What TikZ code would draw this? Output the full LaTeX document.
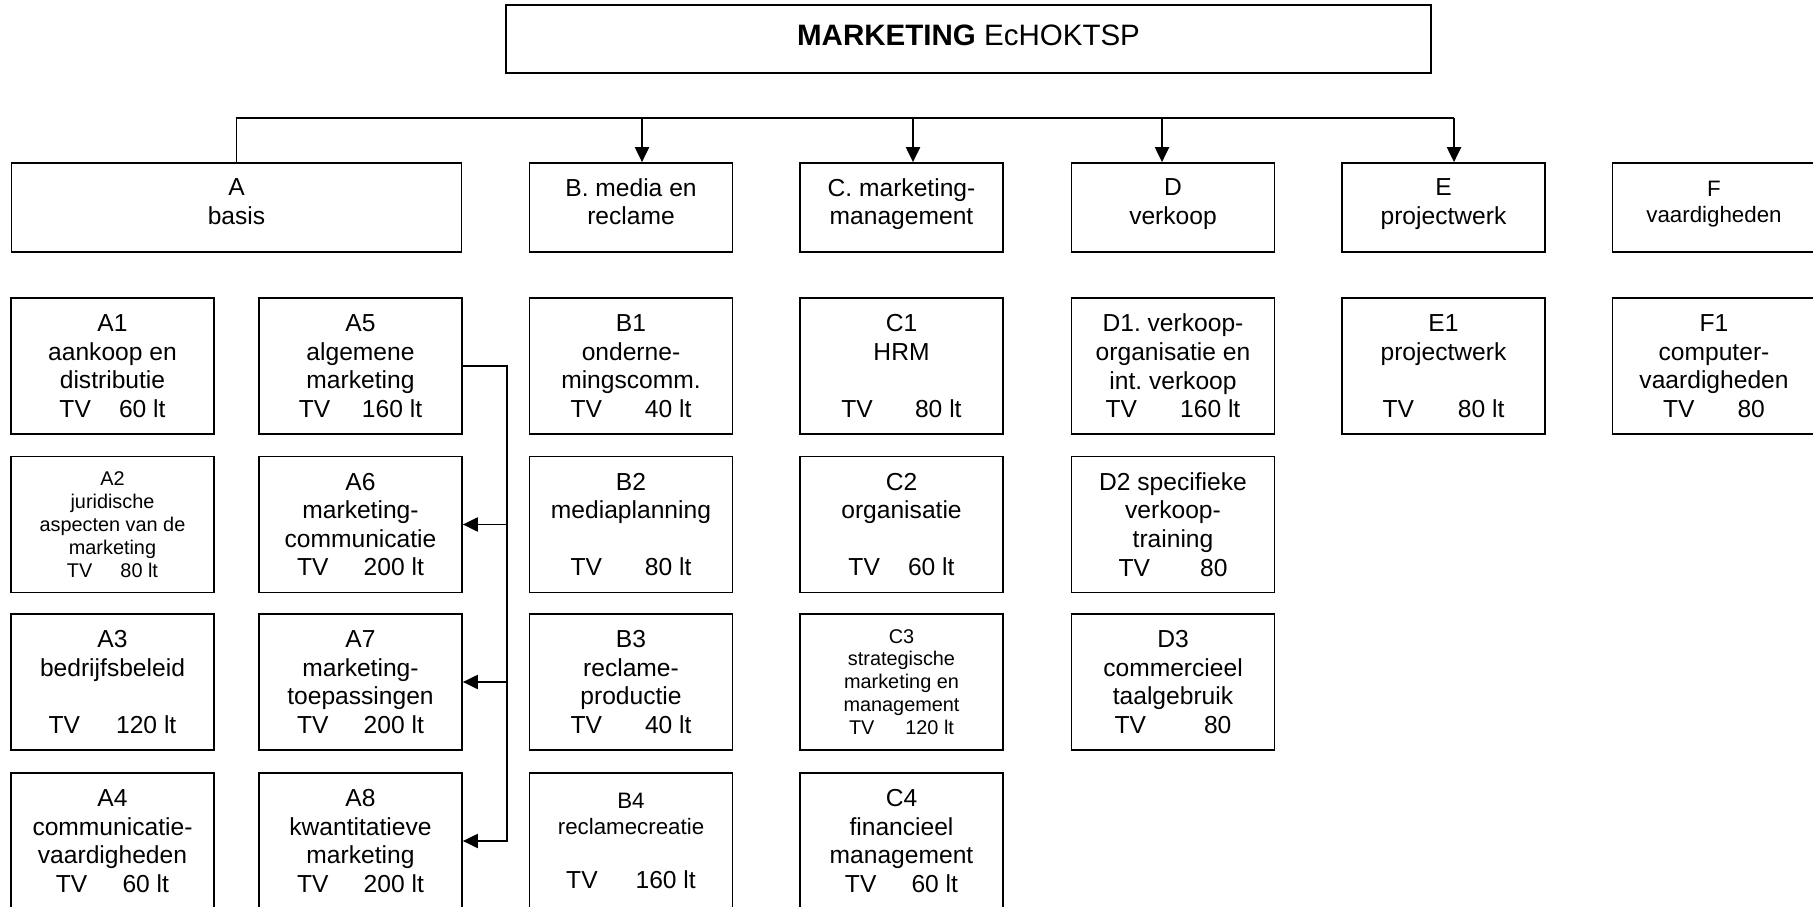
\documentclass[tikz,border=0pt]{standalone}
\usepackage{fontspec}
\setmainfont{Liberation Sans}
\usetikzlibrary{arrows.meta}
\newcommand{\klein}{\fontsize{11.3}{13}\selectfont}
\newcommand{\middel}{\fontsize{12.7}{14.6}\selectfont}
\frenchspacing
\begin{document}
\begin{tikzpicture}[>={Triangle[length=8.5pt,width=8pt]},line width=1pt,
  kop/.style={draw,minimum width=4.06cm,minimum height=1.78cm,align=center,
    inner sep=0pt,text depth=6.6pt,font=\fontsize{14}{16.3}\selectfont},
  vak/.style={draw,minimum width=4.06cm,minimum height=2.72cm,align=center,
    inner sep=0pt,font=\fontsize{14}{16.3}\selectfont}]
\useasboundingbox (0,0) rectangle (36.26,-18.14);
\node[draw,minimum width=18.5cm,minimum height=1.36cm,text depth=4.2pt,
  font=\fontsize{16.8}{19}\selectfont] (titel) at (19.37,-0.78)
  {\textbf{MARKETING} EcHOKTSP};
% hoofdgroepen
\node[kop,minimum width=9cm] (A) at (4.73,-4.15) {A\\basis};
\node[kop] (B) at (12.62,-4.15) {B. media en\\reclame};
\node[kop] (C) at (18.03,-4.15) {C. marketing-\\management};
\node[kop] (D) at (23.46,-4.15) {D\\verkoop};
\node[kop] (E) at (28.87,-4.15) {E\\projectwerk};
\node[kop,font=\middel] (F) at (34.28,-4.15) {F\\vaardigheden};
% A
\node[vak] (A1) at (2.25,-7.32) {A1\\aankoop en\\distributie\\TV\hspace{16pt}60 lt};
\node[vak,font=\klein] (A2) at (2.25,-10.49) {A2\\juridische\\aspecten van de\\marketing\\TV\hspace{16pt}80 lt};
\node[vak] (A3) at (2.25,-13.64) {A3\\bedrijfsbeleid\\[16.3pt]TV\hspace{20.5pt}120 lt};
\node[vak] (A4) at (2.25,-16.82) {A4\\communicatie-\\vaardigheden\\TV\hspace{20pt}60 lt};
\node[vak] (A5) at (7.21,-7.32) {A5\\algemene\\marketing\\TV\hspace{18pt}160 lt};
\node[vak] (A6) at (7.21,-10.49) {A6\\marketing-\\communicatie\\TV\hspace{20pt}200 lt};
\node[vak] (A7) at (7.21,-13.64) {A7\\marketing-\\toepassingen\\TV\hspace{20pt}200 lt};
\node[vak] (A8) at (7.21,-16.82) {A8\\kwantitatieve\\marketing\\TV\hspace{20pt}200 lt};
% B
\node[vak] (B1) at (12.62,-7.32) {B1\\onderne-\\mingscomm.\\TV\hspace{24.5pt}40 lt};
\node[vak] (B2) at (12.62,-10.49) {B2\\mediaplanning\\[16.3pt]TV\hspace{24.5pt}80 lt};
\node[vak] (B3) at (12.62,-13.64) {B3\\reclame-\\productie\\TV\hspace{24.5pt}40 lt};
\node[vak] (B4) at (12.62,-16.82) {{\middel B4}\\[-1.7pt]{\middel reclamecreatie}\\[14.7pt]TV\hspace{21.6pt}160 lt};
% C
\node[vak] (C1) at (18.03,-7.32) {C1\\HRM\\[16.3pt]TV\hspace{24pt}80 lt};
\node[vak] (C2) at (18.03,-10.49) {C2\\organisatie\\[16.3pt]TV\hspace{16pt}60 lt};
\node[vak,font=\klein] (C3) at (18.03,-13.64) {C3\\strategische\\marketing en\\management\\TV\hspace{17.6pt}120 lt};
\node[vak] (C4) at (18.03,-16.82) {C4\\financieel\\management\\TV\hspace{20pt}60 lt};
% D, E, F
\node[vak] (D1) at (23.46,-7.32) {D1. verkoop-\\organisatie en\\int. verkoop\\TV\hspace{24.5pt}160 lt};
\node[vak] (D2) at (23.46,-10.49) {D2 specifieke\\verkoop-\\training\\TV\hspace{28.5pt}80};
\node[vak] (D3) at (23.46,-13.64) {D3\\commercieel\\taalgebruik\\TV\hspace{33pt}80};
\node[vak] (E1) at (28.87,-7.32) {E1\\projectwerk\\[16.3pt]TV\hspace{25pt}80 lt};
\node[vak] (F1) at (34.28,-7.32) {F1\\computer-\\vaardigheden\\TV\hspace{24.5pt}80};
% verbindingen
\coordinate (bus) at (0,-2.36);
\draw (A.north) |- ([xshift=0.21cm]E.north |- bus);
\draw[->] ([xshift=0.22cm]B.north |- bus) -- ([xshift=0.22cm]B.north);
\draw[->] ([xshift=0.23cm]C.north |- bus) -- ([xshift=0.23cm]C.north);
\draw[->] ([xshift=-0.22cm]D.north |- bus) -- ([xshift=-0.22cm]D.north);
\draw[->] ([xshift=0.21cm]E.north |- bus) -- ([xshift=0.21cm]E.north);
\coordinate (rail) at (10.14,-7.32);
\draw[->] (A5.east) -- (rail) |- (A8.east);
\draw[->] (A6.east -| rail) -- (A6.east);
\draw[->] (A7.east -| rail) -- (A7.east);
\end{tikzpicture}
\end{document}
